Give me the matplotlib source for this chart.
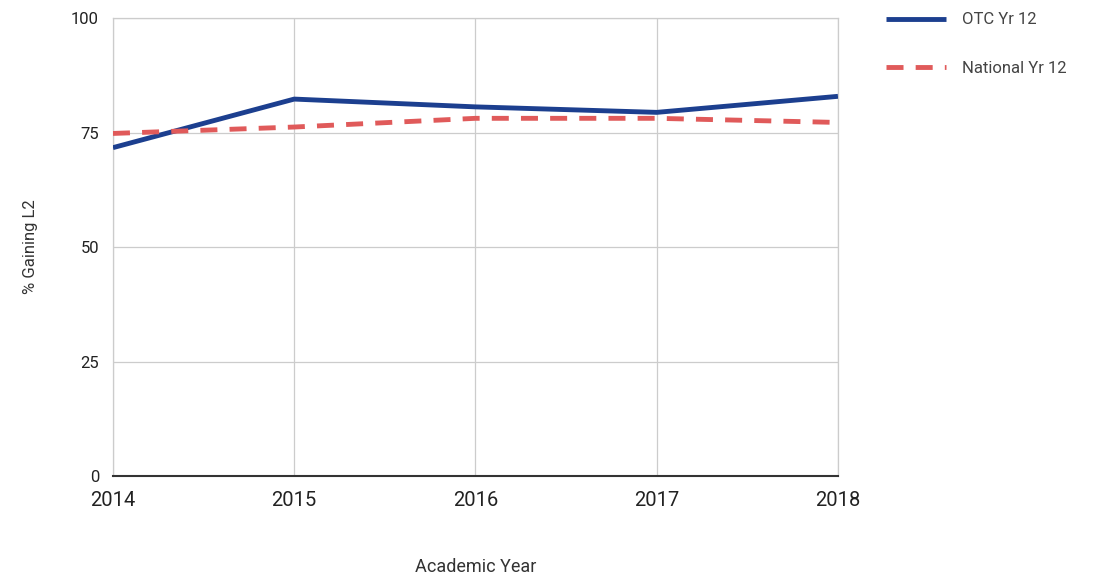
import matplotlib.pyplot as plt

years = [2014, 2015, 2016, 2017, 2018]
otc = [71.7, 82.3, 80.6, 79.4, 82.9]
national = [74.8, 76.2, 78.1, 78.1, 77.2]
y_ticks = [0, 25, 50, 75, 100]

plt.rcParams['font.family'] = ['Roboto', 'DejaVu Sans']

fig = plt.figure(figsize=(11.03, 5.8), dpi=100)
ax = fig.add_axes([0.1024, 0.179, 0.6573, 0.790])

ax.plot(years, otc, color="#1c3f8f", lw=3.5, solid_capstyle="butt", label="OTC Yr 12", zorder=3)
ax.plot(years, national, color="#e05a5a", lw=3.5, dashes=(3.5, 2.5), label="National Yr 12", zorder=3)

ax.set_xlim(2014, 2018)
ax.set_ylim(0, 100)
ax.set_xticks(years)
ax.set_yticks(y_ticks)
ax.grid(True, color="#cccccc", lw=0.9)
ax.set_axisbelow(True)
for s in ["top", "right", "left"]:
    ax.spines[s].set_color("#cccccc")
    ax.spines[s].set_linewidth(0.9)
ax.spines["bottom"].set_color("#333333")
ax.spines["bottom"].set_linewidth(1.5)
ax.tick_params(axis="both", length=0, colors="#222222")
ax.tick_params(axis="x", labelsize=14.5, pad=11)
ax.tick_params(axis="y", labelsize=12, pad=10)

ax.set_xlabel("Academic Year", fontsize=13, color="#333333", labelpad=34)
ax.set_ylabel("% Gaining L2", fontsize=12, color="#333333", labelpad=24)

ax.legend(loc="upper left", bbox_to_anchor=(1.045, 1.045), frameon=False,
          fontsize=12, handlelength=3.6, labelspacing=2.0, handletextpad=1.0,
          labelcolor="#444444")

fig.savefig("out.png", dpi=100)
